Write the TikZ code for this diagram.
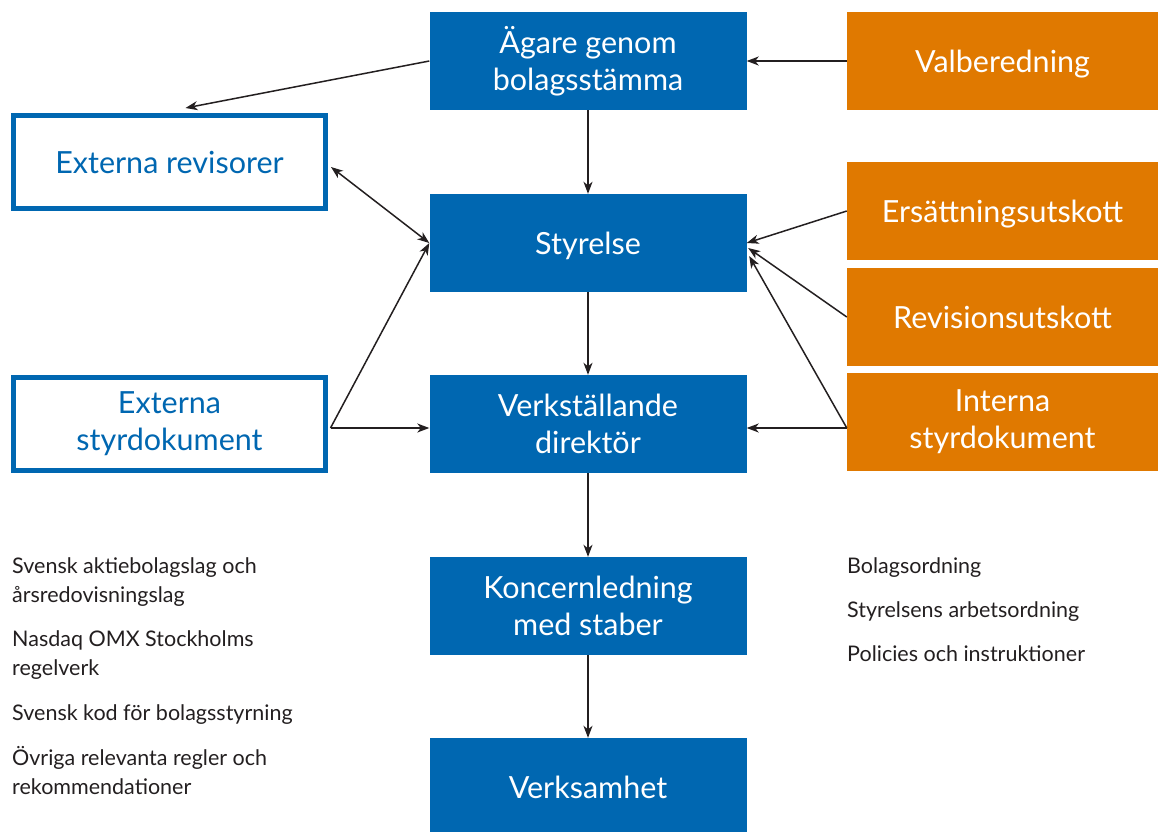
\documentclass[tikz,border=0pt]{standalone}
\usepackage{fontspec}
\setmainfont{Lato}
\usetikzlibrary{arrows.meta,calc}
\definecolor{bblue}{RGB}{0,103,177}
\definecolor{borange}{RGB}{224,121,0}
\definecolor{tgray}{RGB}{35,31,32}
\begin{document}
\begin{tikzpicture}[x=1pt,y=-1pt,
  boxtext/.style={font=\fontsize{30.5}{37}\selectfont},
  bluebox/.style={boxtext, fill=bblue, text=white, minimum width=317pt, minimum height=98pt, inner sep=0pt, align=center},
  orangebox/.style={bluebox, fill=borange, minimum width=311pt},
  outbox/.style={boxtext, draw=bblue, line width=5pt, fill=white, text=bblue, minimum width=312pt, minimum height=93pt, inner sep=0pt, align=center},
  oneline/.style={text height=22pt, text depth=0pt},
  conn/.style={line width=1.5pt, draw=tgray, -{Stealth[length=12pt,width=9pt,inset=3.5pt]}},
  small/.style={anchor=base west, inner sep=0pt, font=\fontsize{21.5}{29}\selectfont, text=tgray}]
\useasboundingbox (0,0) rectangle (1158,831);
% main column
\node[bluebox] (ager) at (588,61) {Ägare genom\\bolagsstämma};
\node[bluebox, oneline] (styr) at (588,243) {Styrelse};
\node[bluebox] (vd) at (588,424) {Verkställande\\direktör};
\node[bluebox] (kl) at (588,606) {Koncernledning\\med staber};
\node[bluebox, oneline] (verk) at (588,787) {Verksamhet};
% right column
\node[orangebox, oneline] (valb) at (1002.5,61) {Valberedning};
\node[orangebox, oneline] (ers) at (1002.5,211) {Ersättningsutskott};
\node[orangebox, oneline] (rev) at (1002.5,317) {Revisionsutskott};
\node[orangebox] (int) at (1002.5,422) {Interna\\styrdokument};
% left column
\node[outbox, oneline] (extrev) at (169.5,162) {Externa revisorer};
\node[outbox] (extstyr) at (169.5,424) {Externa\\styrdokument};
% left list
\node[small] (l1a) at (12,573) {Svensk aktiebolagslag och};
\node[small] (l1b) at (12,602) {årsredovisningslag};
\node[small] (l2a) at (12,646) {Nasdaq OMX Stockholms};
\node[small] (l2b) at (12,675) {regelverk};
\node[small] (l3) at (12,720) {Svensk kod för bolagsstyrning};
\node[small] (l4a) at (12,765) {Övriga relevanta regler och};
\node[small] (l4b) at (12,794) {rekommendationer};
% right list
\node[small] (r1) at (847,573) {Bolagsordning};
\node[small] (r2) at (847,617) {Styrelsens arbetsordning};
\node[small] (r3) at (847,661) {Policies och instruktioner};
% coordinates
\coordinate (es) at ($(extstyr.east)+(2.5,4)$);
\coordinate (is) at ($(int.west)+(0,6)$);
% connectors
\draw[conn] (ager.south) -- (styr.north);
\draw[conn] (styr.south) -- (vd.north);
\draw[conn] (vd.south) -- (kl.north);
\draw[conn] (kl.south) -- (verk.north);
\draw[conn] (valb.west) -- (ager.east);
\draw[conn] (ager.west) -- ($(extrev.north)+(16,-5)$);
\draw[conn, {Stealth[length=12pt,width=9pt,inset=3.5pt]}-{Stealth[length=12pt,width=9pt,inset=3.5pt]}] ($(extrev.east)+(3,5)$) -- (styr.west);
\draw[conn] (es) -- (styr.west);
\draw[conn] (es) -- (es -| vd.west);
\draw[conn] (ers.west) -- (styr.east);
\draw[conn] (rev.west) -- ($(styr.east)+(1.5,5)$);
\draw[conn] (is) -- ($(styr.east)+(2.5,13)$);
\draw[conn] (is) -- (is -| vd.east);
\end{tikzpicture}
\end{document}
